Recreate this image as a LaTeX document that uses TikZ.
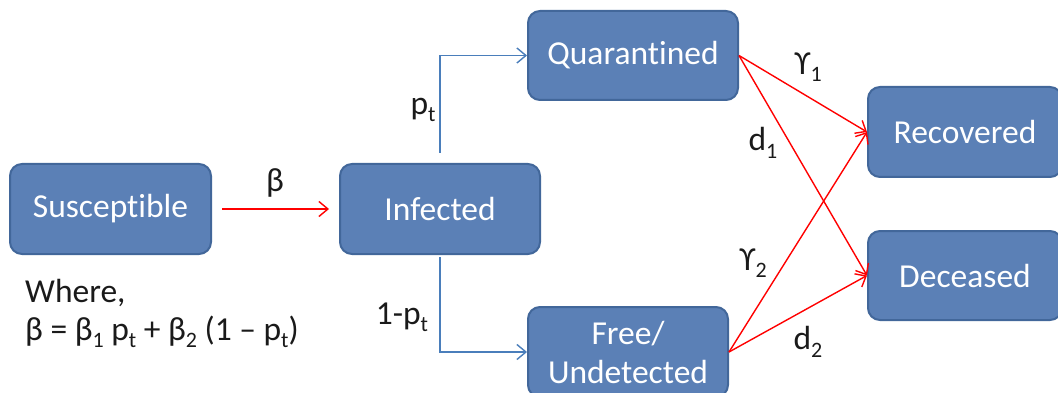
\documentclass[tikz,border=0pt]{standalone}
\usepackage{fontspec}
\setmainfont{Carlito}[RawFeature=-liga]
\usetikzlibrary{arrows.meta}
\definecolor{boxfill}{HTML}{5B80B6}
\definecolor{boxline}{HTML}{42679A}
\definecolor{conblue}{HTML}{4A7EBB}
\definecolor{labtext}{HTML}{1A1A1A}
\newcommand\mysub[1]{\raisebox{-0.22em}{\fontsize{22}{22}\selectfont #1}}
\begin{document}
\begin{tikzpicture}[x=1pt,y=-1pt,
 state/.style={draw=boxline, line width=2pt, fill=boxfill, rounded corners=12pt, text=white, font=\fontsize{33.5}{39}\selectfont, align=center, inner sep=0pt},
 lab/.style={text=labtext, font=\fontsize{33.5}{39}\selectfont, inner sep=0pt},
 redarrow/.style={draw=red, line width=1.4pt, -{Straight Barb[length=9pt,width=15pt]}},
 bluearrow/.style={draw=conblue, line width=1.4pt, -{Straight Barb[length=9pt,width=15pt]}}]
\useasboundingbox (0,0) rectangle (1058,393);
\clip (0,0) rectangle (1058,393);
\node[state, minimum width=201pt, minimum height=90pt] (S) at (110.5,209) {Susceptible};
\node[state, minimum width=200pt, minimum height=90pt] (I) at (440,209) {Infected};
\node[state, minimum width=210pt, minimum height=89pt] (Q) at (633,55.5) {Quarantined};
\node[state, minimum width=200pt, minimum height=90pt] (F) at (628,352) {Free/\\Undetected};
\node[state, minimum width=194pt, minimum height=90pt] (R) at (965,132) {Recovered};
\node[state, minimum width=194pt, minimum height=89pt] (D) at (965,275.5) {Deceased};

\draw[redarrow, shorten <=10pt, shorten >=10pt] (S) -- (I);
\draw[bluearrow, shorten <=10pt] (I.north) |- (Q.west);
\draw[bluearrow, shorten <=2pt] (I.south) |- (F.west);
\draw[redarrow] (Q.east) -- (R.west);
\draw[redarrow] (Q.east) -- (D.west);
\draw[redarrow] (F.east) -- (R.west);
\draw[redarrow] (F.east) -- (D.west);

\node[lab] (lbeta) at (275,183) {β};
\node[lab] (lpt) at (423,110) {p\mysub{t}};
\node[lab] (lqt) at (402,317) {1-p\mysub{t}};
\node[lab] (lg1) at (808,67) {ϒ\mysub{1}};
\node[lab] (ld1) at (763,143) {d\mysub{1}};
\node[lab] (lg2) at (753,263) {ϒ\mysub{2}};
\node[lab] (ld2) at (808,342) {d\mysub{2}};
\node[lab, anchor=west] (where) at (25,293) {Where,};
\node[lab, anchor=west] (formula) at (25,332) {β = β\mysub{1} p\mysub{t} + β\mysub{2} (1 – p\mysub{t})};
\end{tikzpicture}
\end{document}
